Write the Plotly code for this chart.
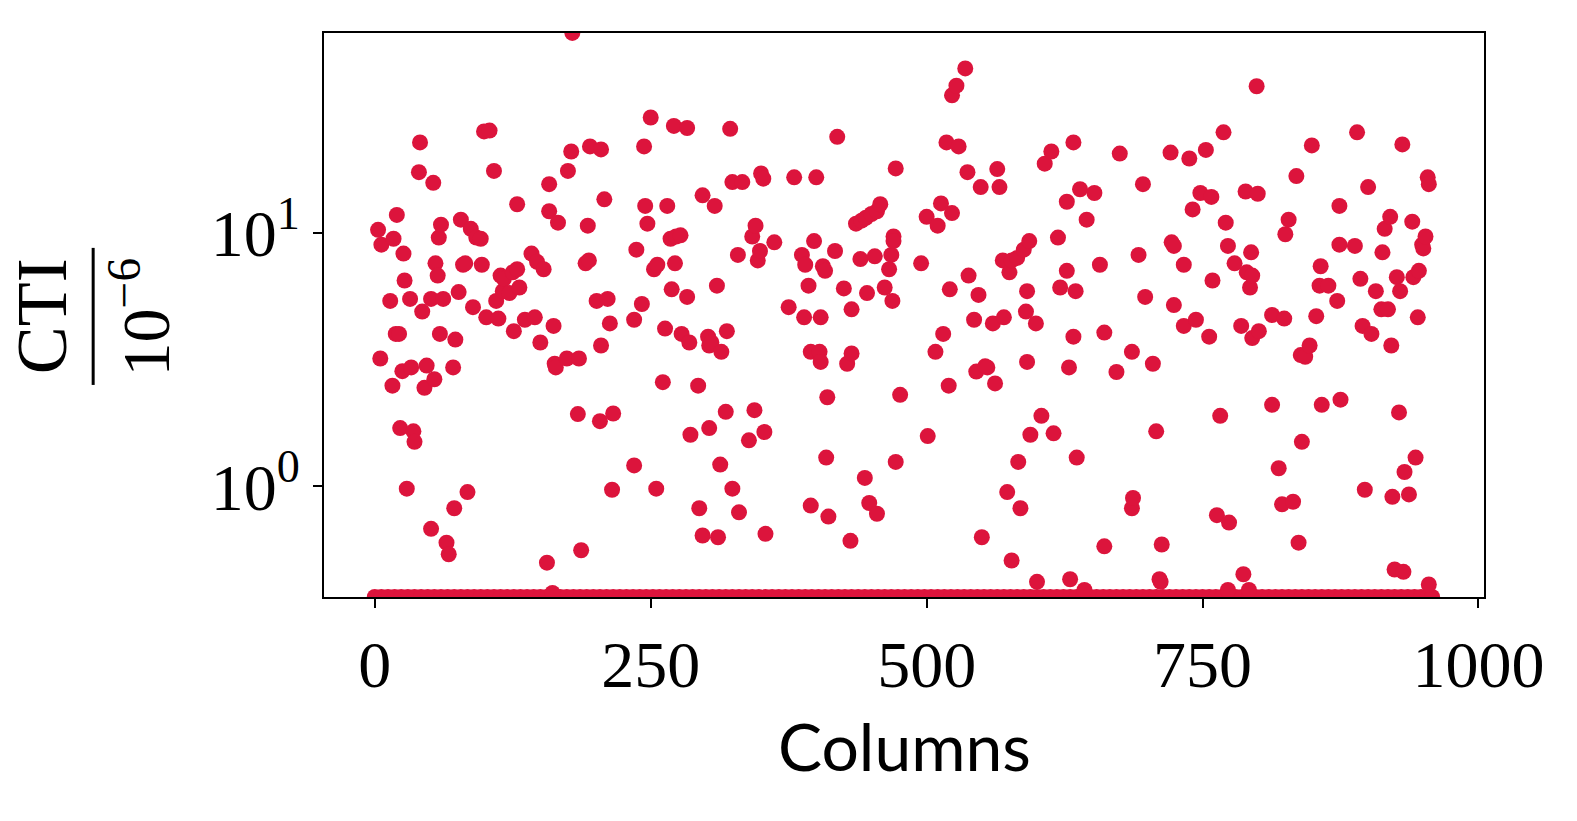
import plotly.graph_objects as go

# Non-zero CTI values (units of 1e-6) per column
cols = [3, 6, 5, 14, 16, 17, 19, 22, 20, 23, 25, 27, 26, 29, 32, 33, 35, 36, 41, 40,
        43, 45, 47, 51, 53, 51, 54, 55, 57, 58, 60, 59, 62, 65, 67, 71, 73, 72, 76, 78,
        80, 82, 84, 87, 89, 92, 97, 96, 99, 104, 101, 108, 110, 112, 114, 116, 117, 122, 125, 126,
        129, 131, 129, 136, 142, 145, 147, 150, 153, 156, 158, 158, 162, 163, 164, 161, 166, 174, 175, 178,
        179, 185, 184, 187, 191, 193, 194, 195, 201, 204, 205, 205, 208, 211, 213, 215, 216, 235, 235, 237,
        242, 244, 245, 247, 250, 253, 255, 256, 261, 263, 265, 268, 269, 271, 272, 273, 277, 278, 283, 283,
        285, 286, 293, 294, 297, 297, 302, 303, 303, 305, 308, 310, 311, 314, 313, 318, 319, 322, 324, 324,
        330, 329, 333, 339, 342, 344, 345, 347, 349, 350, 352, 353, 354, 362, 375, 380, 387, 389, 390, 393,
        395, 395, 398, 400, 403, 404, 404, 406, 408, 409, 410, 411, 417, 419, 425, 428, 431, 432, 432, 436,
        440, 441, 444, 445, 446, 448, 450, 453, 455, 455, 458, 462, 466, 468, 469, 470, 470, 472, 472, 476,
        495, 500, 501, 508, 510, 513, 515, 518, 520, 521, 523, 523, 527, 529, 535, 538, 537, 543, 545, 547,
        549, 550, 553, 555, 560, 562, 564, 566, 570, 569, 573, 575, 577, 577, 582, 583, 585, 588, 590, 591,
        591, 593, 594, 599, 600, 604, 607, 613, 615, 619, 621, 627, 627, 629, 630, 633, 633, 635, 636, 639,
        643, 645, 652, 657, 661, 661, 672, 675, 686, 686, 687, 692, 696, 698, 705, 708, 711, 712, 713, 721,
        722, 724, 724, 733, 733, 738, 741, 744, 748, 753, 756, 758, 759, 763, 766, 769, 771, 773, 774, 773,
        779, 785, 787, 789, 790, 792, 793, 794, 795, 795, 800, 799, 801, 813, 813, 819, 822, 824, 825, 828,
        832, 835, 837, 839, 840, 843, 847, 849, 853, 856, 857, 858, 864, 872, 874, 874, 875, 888, 890, 893,
        895, 897, 900, 903, 907, 912, 913, 915, 918, 920, 921, 922, 924, 926, 928, 929, 931, 932, 933, 937,
        940, 941, 943, 945, 946, 949, 950, 952, 954, 955, 955]
cti = [10.3, 9.0, 3.2, 5.4, 2.5, 9.5, 4.0, 4.0, 11.8, 1.7, 2.85, 6.5, 8.3, 0.98, 5.5, 2.95, 1.65, 1.5, 22.8, 17.4,
       4.9, 2.45, 3.0, 0.68, 15.8, 5.5, 2.65, 7.6, 6.8, 9.6, 10.8, 4.0, 5.5, 0.6, 0.54, 2.95, 3.8, 0.82, 5.85, 11.3,
       7.5, 7.6, 0.95, 10.4, 5.1, 9.6, 7.5, 9.5, 25.2, 25.4, 4.65, 17.6, 5.4, 4.6, 6.8, 5.9, 6.6, 5.8, 7.0, 4.1,
       7.2, 6.1, 13.0, 4.55, 8.3, 4.65, 7.7, 3.7, 7.2, 0.5, 12.2, 15.6, 4.3, 3.05, 2.95, 0.38, 11.0, 3.2, 17.6, 21.0,
       61.7, 3.2, 1.93, 0.56, 7.6, 10.7, 7.8, 22.0, 5.4, 1.81, 3.6, 21.4, 13.6, 5.5, 4.4, 0.97, 1.94, 4.55, 1.21, 8.6,
       5.25, 22.0, 12.8, 10.9, 28.6, 7.2, 0.98, 7.5, 2.58, 4.2, 12.8, 9.5, 6.0, 26.5, 7.6, 9.7, 9.8, 4.0, 26.0, 5.6,
       3.7, 1.6, 2.5, 0.82, 14.1, 0.64, 3.9, 1.7, 3.6, 3.7, 12.8, 6.2, 0.63, 3.4, 1.22, 1.97, 4.1, 25.8, 15.9, 0.98,
       0.79, 8.2, 15.9, 1.52, 9.7, 2.0, 10.7, 7.8, 8.5, 17.2, 16.4, 1.64, 0.65, 9.2, 5.1, 16.6, 8.2, 4.65, 7.5, 6.2,
       3.4, 0.84, 9.3, 16.6, 3.4, 3.1, 4.65, 7.4, 7.1, 1.3, 2.25, 0.76, 8.5, 24.0, 6.05, 3.05, 0.61, 3.35, 5.0, 10.9,
       7.9, 11.2, 1.08, 11.5, 5.8, 0.86, 11.9, 8.1, 0.78, 12.2, 13.0, 6.1, 7.2, 8.2, 5.4, 9.7, 9.3, 18.0, 1.25, 2.3,
       7.6, 11.6, 1.58, 3.4, 10.7, 13.1, 4.0, 22.8, 2.5, 6.0, 12.0, 35.0, 38.2, 22.0, 44.7, 6.8, 17.4, 4.55, 2.84, 5.7,
       15.2, 0.63, 2.98, 2.95, 4.4, 2.55, 17.9, 15.2, 4.65, 7.8, 0.95, 7.0, 0.51, 7.8, 7.98, 1.25, 0.82, 8.6, 4.9, 3.1,
       5.9, 9.3, 1.6, 4.4, 0.42, 1.9, 18.8, 21.0, 1.62, 9.6, 6.1, 13.3, 7.1, 2.95, 0.43, 3.9, 22.8, 5.9, 1.3, 14.9,
       0.39, 11.3, 14.4, 7.5, 4.05, 0.58, 2.83, 20.6, 3.4, 0.82, 0.9, 8.2, 15.6, 5.6, 3.05, 1.65, 0.43, 0.42, 0.59, 20.8,
       9.2, 8.9, 5.2, 7.5, 4.3, 19.7, 12.4, 4.55, 14.4, 21.3, 3.9, 13.9, 6.5, 0.77, 1.9, 25.0, 11.0, 8.9, 0.72, 0.39,
       7.6, 4.3, 0.45, 14.6, 7.0, 0.39, 6.1, 8.4, 6.8, 3.85, 14.3, 38.0, 4.1, 2.1, 4.75, 1.18, 0.85, 4.6, 9.9, 11.3,
       0.87, 16.8, 0.6, 3.3, 1.5, 3.25, 3.6, 22.2, 4.7, 6.2, 7.4, 2.1, 6.2, 5.4, 9.0, 12.8, 2.2, 8.9, 25.0, 6.6,
       4.3, 0.97, 15.2, 4.0, 5.9, 5.0, 8.4, 10.4, 5.0, 11.6, 3.6, 0.91, 0.47, 6.7, 1.96, 5.9, 22.4, 0.46, 1.14, 0.93,
       11.1, 6.7, 1.3, 4.65, 7.1, 9.0, 8.7, 9.7, 16.6, 15.6, 0.41]

# Columns whose CTI is zero (drawn clipped at the bottom of the log axis)
zero_cols = [0, 6, 12, 18, 24, 30, 36, 42, 48, 54, 60, 66, 72, 78, 84, 90, 96, 102, 108, 114,
             120, 126, 132, 138, 144, 150, 156, 162, 168, 174, 180, 186, 192, 198, 204, 210, 216, 222, 228, 234,
             240, 246, 252, 258, 264, 270, 276, 282, 288, 294, 300, 306, 312, 318, 324, 330, 336, 342, 348, 354,
             360, 366, 372, 378, 384, 390, 396, 402, 408, 414, 420, 426, 432, 438, 444, 450, 456, 462, 468, 474,
             480, 486, 492, 498, 504, 510, 516, 522, 528, 534, 540, 546, 552, 558, 564, 570, 576, 582, 588, 594,
             600, 606, 612, 618, 624, 630, 636, 642, 648, 654, 660, 666, 672, 678, 684, 690, 696, 702, 708, 714,
             720, 726, 732, 738, 744, 750, 756, 762, 768, 774, 780, 786, 792, 798, 804, 810, 816, 822, 828, 834,
             840, 846, 852, 858, 864, 870, 876, 882, 888, 894, 900, 906, 912, 918, 924, 930, 936, 942, 948, 954, 958]
zero_cti = [0.0] * len(zero_cols)

x_ticks = [0, 250, 500, 750, 1000]
y_ticks = [1, 10]
y_ticktext = ["10<sup>0</sup>", "10<sup>1</sup>"]

Y_LOG_RANGE = [-0.4365, 1.79]
X_RANGE = [-46, 1005]
y_floor = 10 ** Y_LOG_RANGE[0]

COLOR = "#DC143C"
SERIF = "Liberation Serif"
MSIZE = 16

fig = go.Figure()
fig.add_trace(go.Scatter(
    x=zero_cols, y=[v if v > 0 else y_floor for v in zero_cti],
    mode="markers", marker=dict(color=COLOR, size=MSIZE, line=dict(width=0)),
    cliponaxis=True, hoverinfo="skip"))
fig.add_trace(go.Scatter(
    x=cols, y=cti, mode="markers",
    marker=dict(color=COLOR, size=MSIZE, line=dict(width=0)),
    cliponaxis=True))

axis_common = dict(
    showline=True, linecolor="black", linewidth=2, mirror=True,
    ticks="outside", ticklen=9, tickwidth=2, tickcolor="black",
    showgrid=False, zeroline=False,
    tickfont=dict(family=SERIF, size=66, color="black"),
)

fig.update_layout(
    width=1569, height=813,
    margin=dict(l=316, r=93, t=25, b=224),
    paper_bgcolor="white", plot_bgcolor="white",
    showlegend=False,
    xaxis=dict(range=X_RANGE, tickvals=x_ticks, **axis_common),
    yaxis=dict(type="log", range=Y_LOG_RANGE, tickvals=y_ticks, ticktext=y_ticktext,
               **axis_common),
)

# x-axis label
fig.add_annotation(text="Columns", xref="paper", yref="paper", x=0.5, y=-0.263,
                   xanchor="center", yanchor="middle", showarrow=False,
                   font=dict(family="Lato", size=66, color="black"))

# y-axis label as a rotated fraction CTI / 10^-6
fig.add_annotation(text="CTI", xref="paper", yref="paper", x=-0.2435, y=0.497,
                   xanchor="center", yanchor="middle", showarrow=False, textangle=-90,
                   font=dict(family=SERIF, size=72, color="black"))
fig.add_shape(type="line", xref="paper", yref="paper",
              x0=-0.199, x1=-0.199, y0=0.376, y1=0.619,
              line=dict(color="black", width=3))
fig.add_annotation(text="10<sup>\u22126</sup>", xref="paper", yref="paper", x=-0.158, y=0.497,
                   xanchor="center", yanchor="middle", showarrow=False, textangle=-90,
                   font=dict(family=SERIF, size=68, color="black"))

fig.write_html("out.html", config={"displayModeBar": False})
